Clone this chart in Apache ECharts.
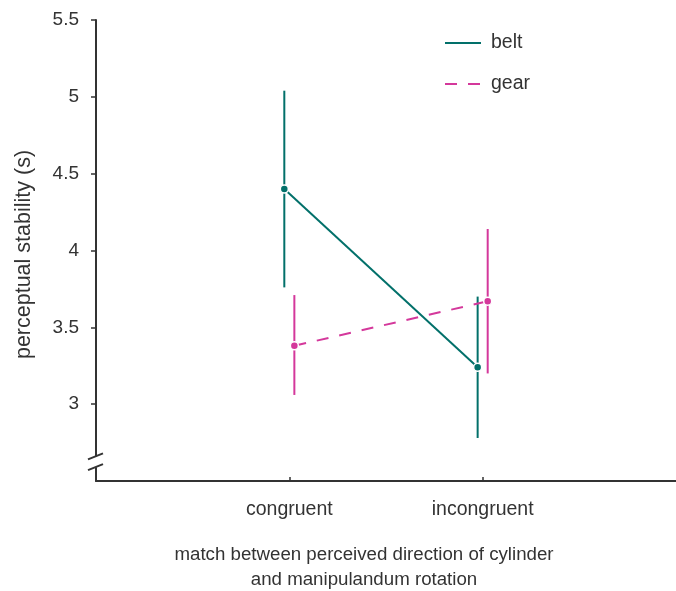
<!DOCTYPE html>
<html>
<head>
<meta charset="utf-8">
<script src="https://cdn.jsdelivr.net/npm/echarts@6/dist/echarts.min.js"></script>
<style>
  html, body { margin: 0; padding: 0; background: #fff; }
  #chart { width: 676px; height: 591px; }
</style>
</head>
<body>
<div id="chart"></div>
<script>
// values
const categories = ['congruent', 'incongruent'];
const seriesNames = ['belt', 'gear'];
const beltMean = [4.40, 3.24];
const beltLow = [3.76, 2.78];
const beltHigh = [5.04, 3.70];
const gearMean = [3.38, 3.67];
const gearLow = [3.06, 3.20];
const gearHigh = [3.71, 4.14];
const yTicks = [3, 3.5, 4, 4.5, 5, 5.5];

const teal = '#02706a';
const pink = '#d4389b';
const ink = '#333333';
const font = 'Liberation Sans, Arial, sans-serif';
const dodge = 0.026;

const chart = echarts.init(document.getElementById('chart'));

function points(means, shift) {
    return means.map((v, i) => [i + 1 + shift, v]);
}
function bars(lows, highs, shift) {
    return lows.map((v, i) => [i + 1 + shift, v, highs[i]]);
}
function renderBar(color) {
    return function (params, api) {
        const top = api.coord([api.value(0), api.value(2)]);
        const bot = api.coord([api.value(0), api.value(1)]);
        return {
            type: 'line',
            shape: { x1: top[0], y1: top[1], x2: bot[0], y2: bot[1] },
            style: { stroke: color, lineWidth: 2 }
        };
    };
}

const option = {
    animation: false,
    textStyle: { fontFamily: font },
    grid: { left: 96, right: -2, top: 20, bottom: 110, containLabel: false },
    title: {
        text: 'match between perceived direction of cylinder\nand manipulandum rotation',
        left: 359, top: 537, textAlign: 'center',
        textStyle: { fontSize: 18.7, fontWeight: 'normal', color: ink, lineHeight: 25, fontFamily: font }
    },
    legend: {
        orient: 'vertical', left: 439, top: 28,
        itemWidth: 36, itemHeight: 2, itemGap: 21,
        data: seriesNames,
        itemStyle: { borderWidth: 0, color: 'rgba(0,0,0,0)' },
        textStyle: { fontSize: 19.5, color: ink, padding: [0, 0, 0, 5], fontFamily: font }
    },
    xAxis: {
        type: 'value', min: 0, max: 3,
        splitLine: { show: false },
        axisLine: { lineStyle: { color: ink, width: 2 } },
        axisTick: { inside: true, length: 4, customValues: [1, 2], lineStyle: { color: ink, width: 1.5 } },
        axisLabel: {
            customValues: [1, 2], margin: 19, fontSize: 19.5, color: ink,
            formatter: v => categories[Math.round(v) - 1] || ''
        }
    },
    yAxis: {
        type: 'value', min: 2.5, max: 5.5,
        name: 'perceptual stability (s)', nameLocation: 'middle', nameGap: 61,
        nameTextStyle: { fontSize: 21.5, color: ink, padding: [0, 8, 0, 0] },
        splitLine: { show: false },
        axisLine: { lineStyle: { color: ink, width: 2 } },
        axisTick: { length: 5, customValues: yTicks, lineStyle: { color: ink, width: 1.5 } },
        axisLabel: { customValues: yTicks, margin: 17, fontSize: 19, color: ink }
    },
    series: [
        {
            type: 'custom', name: 'belt-err', z: 1,
            renderItem: renderBar(teal),
            data: bars(beltLow, beltHigh, -dodge)
        },
        {
            type: 'custom', name: 'gear-err', z: 1,
            renderItem: renderBar(pink),
            data: bars(gearLow, gearHigh, dodge)
        },
        {
            type: 'line', name: 'belt', z: 3,
            data: points(beltMean, -dodge),
            symbol: 'circle', symbolSize: 8,
            itemStyle: { color: teal, borderColor: '#fff', borderWidth: 1.5 },
            lineStyle: { color: teal, width: 2 }
        },
        {
            type: 'line', name: 'gear', z: 3,
            data: points(gearMean, dodge),
            symbol: 'circle', symbolSize: 8,
            itemStyle: { color: pink, borderColor: '#fff', borderWidth: 1.5 },
            lineStyle: { color: pink, width: 2, type: [12, 11] }
        }
    ]
};
chart.setOption(option);

// axis break marks just above the x axis
const ax = chart.convertToPixel({ xAxisIndex: 0 }, 0);
const gapTop = chart.convertToPixel({ yAxisIndex: 0 }, 2.66);
const gapBot = chart.convertToPixel({ yAxisIndex: 0 }, 2.59);
chart.setOption({
    graphic: [
        { type: 'rect', z: 100, shape: { x: ax - 4, y: gapTop, width: 8, height: gapBot - gapTop }, style: { fill: '#fff' } },
        { type: 'line', z: 101, shape: { x1: ax - 8, y1: gapTop + 3, x2: ax + 7, y2: gapTop - 3 }, style: { stroke: ink, lineWidth: 2 } },
        { type: 'line', z: 101, shape: { x1: ax - 8, y1: gapBot + 3, x2: ax + 7, y2: gapBot - 3 }, style: { stroke: ink, lineWidth: 2 } }
    ]
});
</script>
</body>
</html>
